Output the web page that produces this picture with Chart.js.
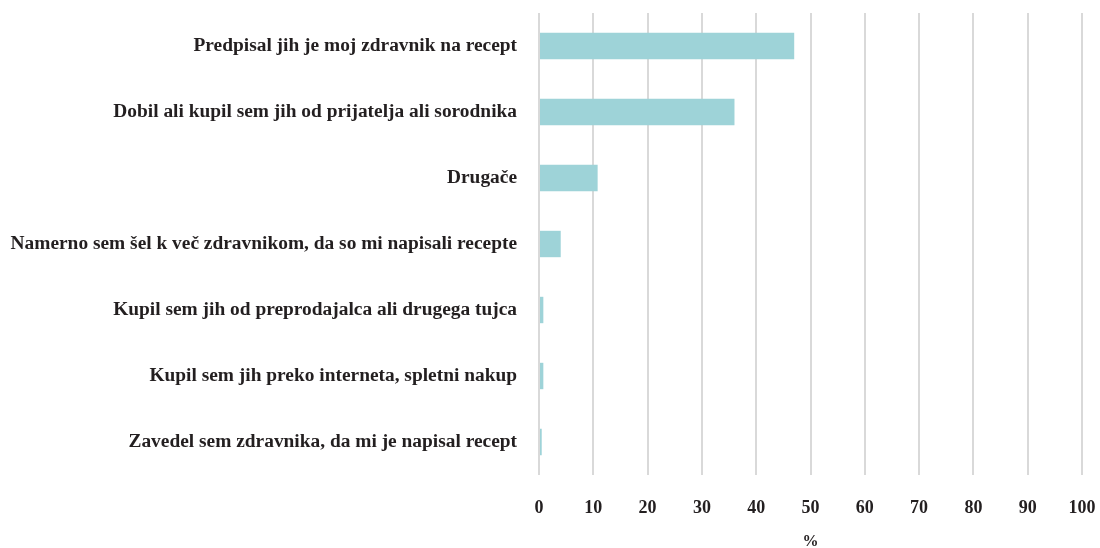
<!DOCTYPE html>
<html>
<head>
<meta charset="utf-8">
<script src="https://cdn.jsdelivr.net/npm/chart.js@4"></script>
<style>
  body { margin: 0; background: #fff; }
  #wrap { width: 1100px; height: 548px; }
</style>
</head>
<body>
<div id="wrap"><canvas id="barChart"></canvas></div>
<script>
// categories and values
var labels = [
  'Predpisal jih je moj zdravnik na recept',
  'Dobil ali kupil sem jih od prijatelja ali sorodnika',
  'Drugače',
  'Namerno sem šel k več zdravnikom, da so mi napisali recepte',
  'Kupil sem jih od preprodajalca ali drugega tujca',
  'Kupil sem jih preko interneta, spletni nakup',
  'Zavedel sem zdravnika, da mi je napisal recept'
];
var values = [47, 36, 10.8, 4, 0.8, 0.8, 0.5];
var xTicks = [0, 10, 20, 30, 40, 50, 60, 70, 80, 90, 100];
var xTitle = '%';

var fontFam = '"Liberation Serif", "DejaVu Serif", serif';
var textCol = '#231f20';

var ctx = document.getElementById('barChart').getContext('2d');
var myChart = new Chart(ctx, {
  type: 'bar',
  data: {
    labels: labels,
    datasets: [{
      data: values,
      backgroundColor: '#9ed3d8',
      borderWidth: 0,
      barPercentage: 0.4,
      categoryPercentage: 1
    }]
  },
  options: {
    indexAxis: 'y',
    responsive: true,
    maintainAspectRatio: false,
    animation: false,
    layout: { padding: { top: 13, right: 18, left: 0, bottom: 0 } },
    plugins: {
      legend: { display: false },
      tooltip: { enabled: false }
    },
    scales: {
      x: {
        min: 0,
        max: 100,
        afterBuildTicks: function (axis) {
          axis.ticks = xTicks.map(function (v) { return { value: v }; });
        },
        afterFit: function (axis) {
          axis.height = 73;
          axis.paddingLeft = 0;
          axis.paddingRight = 0;
        },
        grid: { color: '#d9d9d9', lineWidth: 2, drawTicks: false },
        border: { display: false },
        ticks: {
          padding: 23,
          color: textCol,
          font: { family: fontFam, size: 18, weight: 'bold' }
        },
        title: {
          display: true,
          text: xTitle,
          color: textCol,
          padding: { top: 0, bottom: -3 },
          font: { family: fontFam, size: 16, weight: 'bold' }
        }
      },
      y: {
        afterFit: function (axis) {
          axis.width = 539;
          axis.paddingTop = 0;
          axis.paddingBottom = 0;
        },
        grid: { display: false, drawTicks: false },
        border: { display: false },
        ticks: {
          padding: 22,
          color: textCol,
          font: { family: fontFam, size: 19.4, weight: 'bold' }
        }
      }
    }
  }
});
</script>
</body>
</html>
